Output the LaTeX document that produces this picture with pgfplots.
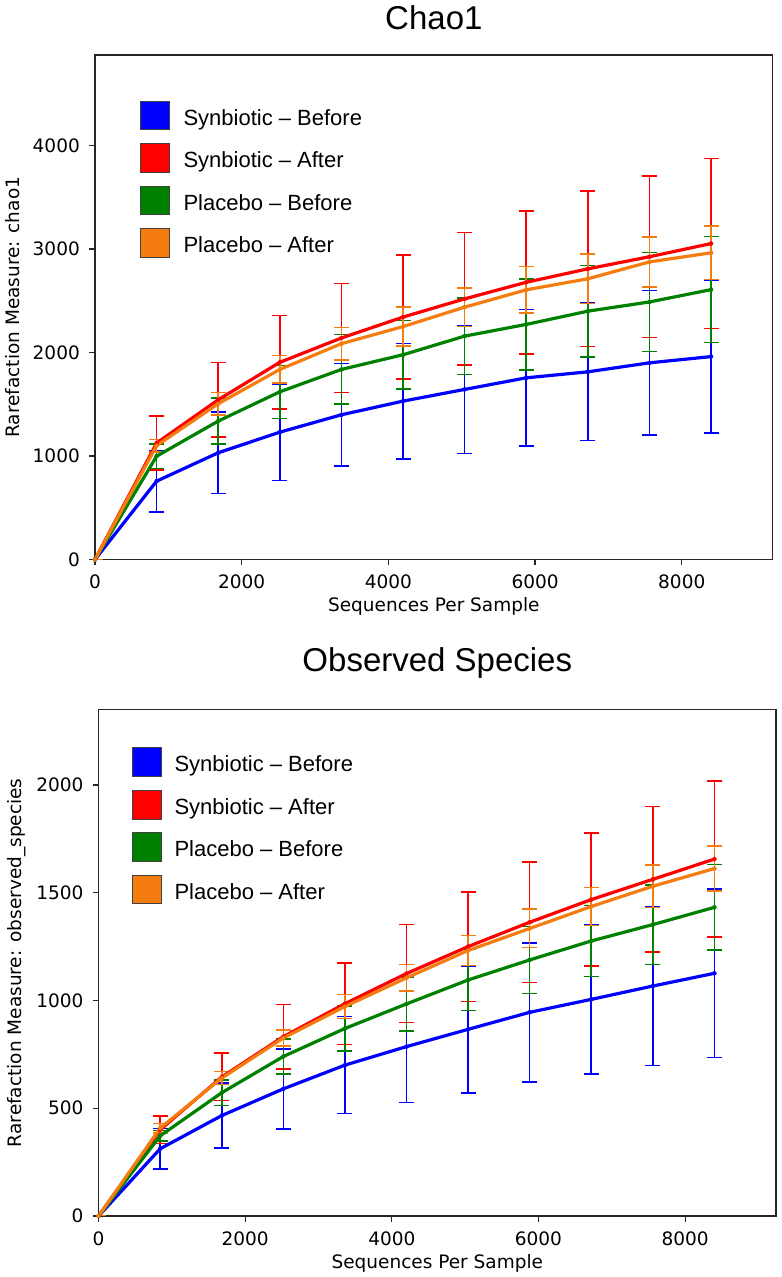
\documentclass[border=0pt]{standalone}
\usepackage{fontspec}
\setmainfont{Liberation Sans}
\newfontfamily\djv{DejaVu Sans}
\newfontfamily\arialf{Liberation Sans}
\usepackage{pgfplots}
\usepackage{pgfplotstable}
\pgfplotsset{compat=1.18}
\definecolor{cblue}{RGB}{0,0,255}
\definecolor{cred}{RGB}{255,0,0}
\definecolor{cgreen}{RGB}{0,128,0}
\definecolor{corange}{RGB}{245,124,15}
\newcommand{\tickfont}{\djv\fontsize{18.5bp}{22bp}\selectfont}
\newcommand{\titlefont}{\arialf\fontsize{33bp}{38bp}\selectfont}
\newcommand{\legfont}{\arialf\fontsize{22bp}{26bp}\selectfont}

\pgfplotstableread{
x b be r re g ge o oe
0 0 0 0 0 0 0 0 0
840 757 296 1125 262 998 120 1100 60
1680 1031 393 1543 359 1337 222 1505 110
2520 1230 467 1905 452 1620 256 1836 133
3360 1398 495 2140 528 1836 336 2085 155
4200 1530 557 2342 600 1978 330 2250 190
5040 1643 619 2518 640 2158 370 2438 187
5880 1755 660 2678 690 2271 438 2605 225
6720 1813 663 2808 752 2399 441 2712 238
7560 1900 700 2925 780 2488 478 2875 240
8400 1960 740 3052 822 2607 512 2963 258
}\chao

\pgfplotstableread{
x b be r re g ge o oe
0 0 0 0 0 0 0 0 0
840 312 94 400 64 372 25 408 22
1680 466 150 645 110 572 60 640 30
2520 590 185 832 150 740 80 826 38
3360 700 225 985 190 870 105 972 55
4200 786 260 1125 227 984 125 1105 62
5040 866 294 1250 254 1095 142 1232 70
5880 945 322 1363 280 1188 155 1334 89
6720 1005 345 1468 308 1276 165 1436 88
7560 1067 368 1562 338 1352 185 1530 98
8400 1126 391 1656 362 1432 199 1612 104
}\obs

\pgfplotsset{
  rare/.style={
    scale only axis,
    xmin=0, xmax=9240, ymin=0,
    xtick={0,2000,4000,6000,8000},
    tick align=outside, tick pos=left,
    major tick length=5.5bp,
    tick style={line width=1.2bp, black!85},
    axis line style={line width=1.2bp, black!85},
    scaled ticks=false,
    /pgf/number format/1000 sep={},
    /pgf/number format/assume math mode=true,
    ticklabel style={font=\tickfont},
    xticklabel style={anchor=north, inner sep=0pt, yshift=-10bp},
    yticklabel style={anchor=east, inner sep=0pt, xshift=-9.5bp},
    xlabel={Sequences Per Sample},
    xlabel style={font=\tickfont, at={(0.5,0)}, anchor=base, inner sep=0pt, yshift=-52bp},
    title style={font=\titlefont, at={(0.5,1)}, anchor=base, inner sep=0pt},
    legend cell align=left,
    legend image code/.code={\draw[##1, draw=black!75, line width=0.8bp] (0bp,-10.5bp) rectangle (29bp,18.3bp);},
    legend entries={Synbiotic – Before, Synbiotic – After, Placebo – Before, Placebo – After},
  },
  eb/.style={color=#1, only marks, mark=none, forget plot,
    error bars/.cd, y dir=both, y explicit,
    error bar style={line width=1.6bp, solid},
    error mark options={rotate=90, line width=1.6bp, mark size=7.5bp, solid}},
  ln/.style={draw=#1, line width=3.2bp, mark=none, forget plot},
}

\begin{document}
\begin{tikzpicture}
\useasboundingbox (0,0) rectangle (782bp,1277bp);

\begin{axis}[rare,
  at={(95bp,717.5bp)}, anchor=south west,
  width=677.7bp, height=504.5bp,
  ymax=4874, ytick={0,1000,2000,3000,4000},
  title={Chao1}, title style={yshift=20bp},
  ylabel={Rarefaction Measure: chao1},
  ylabel style={font=\tickfont, at={(-0.1114,0.5)}, anchor=base, inner sep=0pt},
  legend style={at={(0.0664,0.9094)}, anchor=north west, draw=none, fill=none,
    inner sep=0pt, outer sep=0pt, row sep=12.9bp, column sep=13.7bp, font=\legfont,
    nodes={inner sep=0pt, text height=16bp, text depth=4.6bp}},
]
\addlegendimage{fill=cblue}
\addlegendimage{fill=cred}
\addlegendimage{fill=cgreen}
\addlegendimage{fill=corange}
\addplot[eb=cblue] table[x=x, y=b, y error=be] {\chao};
\addplot[eb=cred] table[x=x, y=r, y error=re] {\chao};
\addplot[eb=cgreen] table[x=x, y=g, y error=ge] {\chao};
\addplot[eb=corange] table[x=x, y=o, y error=oe] {\chao};
\addplot[ln=cblue] table[x=x, y=b] {\chao};
\addplot[ln=cred] table[x=x, y=r] {\chao};
\addplot[ln=cgreen] table[x=x, y=g] {\chao};
\addplot[ln=corange] table[x=x, y=o] {\chao};
\end{axis}

\begin{axis}[rare,
  at={(98.6bp,61bp)}, anchor=south west,
  width=677.4bp, height=506.5bp,
  ymax=2350, ytick={0,500,1000,1500,2000},
  title={Observed Species}, title style={yshift=31.8bp},
  ylabel={Rarefaction Measure: observed\_species},
  ylabel style={font=\tickfont, at={(-0.1134,0.5)}, anchor=base, inner sep=0pt},
  legend style={at={(0.0489,0.925)}, anchor=north west, draw=none, fill=none,
    inner sep=0pt, outer sep=0pt, row sep=12.8bp, column sep=13bp, font=\legfont,
    nodes={inner sep=0pt, text height=16bp, text depth=4.6bp}},
]
\addlegendimage{fill=cblue}
\addlegendimage{fill=cred}
\addlegendimage{fill=cgreen}
\addlegendimage{fill=corange}
\addplot[eb=cblue] table[x=x, y=b, y error=be] {\obs};
\addplot[eb=cred] table[x=x, y=r, y error=re] {\obs};
\addplot[eb=cgreen] table[x=x, y=g, y error=ge] {\obs};
\addplot[eb=corange] table[x=x, y=o, y error=oe] {\obs};
\addplot[ln=cblue] table[x=x, y=b] {\obs};
\addplot[ln=cred] table[x=x, y=r] {\obs};
\addplot[ln=cgreen] table[x=x, y=g] {\obs};
\addplot[ln=corange] table[x=x, y=o] {\obs};
\end{axis}
\end{tikzpicture}
\end{document}
